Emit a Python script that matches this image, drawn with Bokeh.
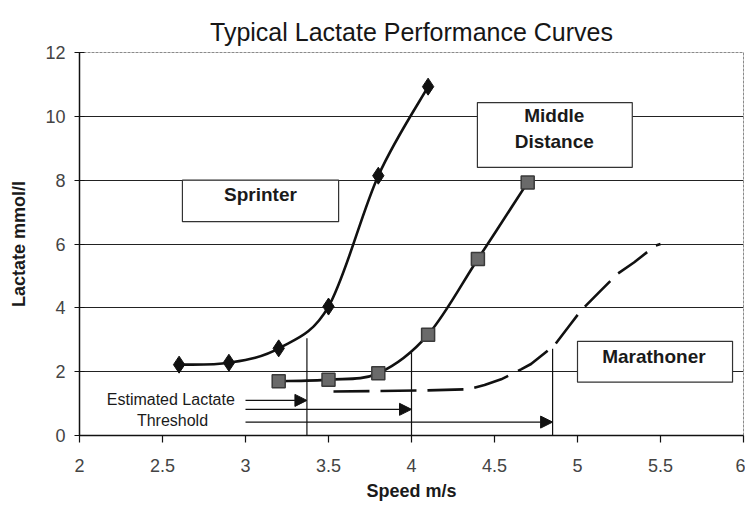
from bokeh.plotting import figure
from bokeh.models import Range1d, FixedTicker, BoxAnnotation, Label, Arrow, NormalHead, ColumnDataSource
from bokeh.embed import file_html
from bokeh.resources import INLINE

# ---- data ----
speed_sprinter = [2.6, 2.9, 3.2, 3.5, 3.8, 4.1]
lactate_sprinter = [2.22, 2.28, 2.73, 4.04, 8.14, 10.93]

speed_middle = [3.2, 3.5, 3.8, 4.1, 4.4, 4.7]
lactate_middle = [1.70, 1.75, 1.95, 3.16, 5.53, 7.93]

speed_marathon = [3.53, 3.77, 4.06, 4.34, 4.44, 4.54, 4.66, 4.72, 4.86, 4.96,
                  5.02, 5.14, 5.24, 5.34, 5.47, 5.5]
lactate_marathon = [1.38, 1.39, 1.41, 1.45, 1.58, 1.76, 2.07, 2.24, 2.82, 3.50,
                    3.91, 4.54, 5.06, 5.42, 5.95, 6.0]

threshold_speed = [3.37, 4.0, 4.85]
threshold_top = [3.05, 2.6, 2.72]
arrow_lactate = [1.10, 0.82, 0.42]
arrow_start = 3.0

x_ticks = [2, 2.5, 3, 3.5, 4, 4.5, 5, 5.5, 6]
x_tick_labels = ["2", "2.5", "3", "3.5", "4", "4.5", "5", "5.5", "6"]
y_ticks = [0, 2, 4, 6, 8, 10, 12]
y_tick_labels = ["0", "2", "4", "6", "8", "10", "12"]

FONT = "Liberation Sans"


def smooth_segments(xs, ys):
    """Catmull-Rom style bezier control points through the given points."""
    n = len(xs)
    d = dict(x0=[], y0=[], x1=[], y1=[], cx0=[], cy0=[], cx1=[], cy1=[])
    for i in range(n - 1):
        a = i - 1 if i > 0 else i
        b = i + 2 if i + 2 < n else i + 1
        d["x0"].append(xs[i]); d["y0"].append(ys[i])
        d["x1"].append(xs[i + 1]); d["y1"].append(ys[i + 1])
        d["cx0"].append(xs[i] + (xs[i + 1] - xs[a]) / 6.0)
        d["cy0"].append(ys[i] + (ys[i + 1] - ys[a]) / 6.0)
        d["cx1"].append(xs[i + 1] - (xs[b] - xs[i]) / 6.0)
        d["cy1"].append(ys[i + 1] - (ys[b] - ys[i]) / 6.0)
    return ColumnDataSource(d)


p = figure(width=745, height=505, output_backend="svg", toolbar_location=None,
           x_range=Range1d(2, 6), y_range=Range1d(0, 12),
           min_border_left=79, min_border_right=2, min_border_top=52, min_border_bottom=70)

p.title.text = "Typical Lactate Performance Curves"
p.title.align = "center"
p.title.offset = -10
p.title.standoff = 14
p.title.text_font = FONT
p.title.text_font_size = "25px"
p.title.text_font_style = "normal"
p.title.text_color = "#161616"

p.background_fill_color = "white"
p.border_fill_color = "white"
p.outline_line_color = "#8a8a8a"
p.outline_line_width = 1
p.outline_line_dash = "3 1"

# axes
p.xaxis.ticker = FixedTicker(ticks=x_ticks)
p.xaxis.major_label_overrides = {float(t): l for t, l in zip(x_ticks, x_tick_labels)}
p.yaxis.ticker = FixedTicker(ticks=y_ticks)
p.yaxis.major_label_overrides = {float(t): l for t, l in zip(y_ticks, y_tick_labels)}
for ax in (p.xaxis, p.yaxis):
    ax.axis_line_color = "#111111"
    ax.axis_line_width = 1.5
    ax.major_tick_line_color = "#111111"
    ax.major_tick_line_width = 1.2
    ax.minor_tick_line_color = None
    ax.major_label_text_font = FONT
    ax.major_label_text_font_size = "18px"
    ax.major_label_text_color = "#444444"
    ax.axis_label_text_font = FONT
    ax.axis_label_text_font_style = "bold"
    ax.axis_label_text_font_size = "18px"
    ax.axis_label_text_color = "#1a1a1a"
p.xaxis.major_tick_in = 0
p.xaxis.major_tick_out = 7
p.xaxis.major_label_standoff = 16
p.xaxis.axis_label = "Speed m/s"
p.xaxis.axis_label_standoff = 6
p.yaxis.major_tick_in = 5
p.yaxis.major_tick_out = 5
p.yaxis.major_label_standoff = 9
p.yaxis.axis_label = "Lactate mmol/l"
p.yaxis.axis_label_standoff = 13

p.xgrid.grid_line_color = None
p.ygrid.ticker = FixedTicker(ticks=y_ticks)
p.ygrid.grid_line_color = "#222222"
p.ygrid.grid_line_width = 1.2

# threshold vertical lines
p.segment(x0=threshold_speed, y0=[0] * len(threshold_speed),
          x1=threshold_speed, y1=threshold_top, line_color="#111111", line_width=1.2)

# arrows
for xs, ya in zip(threshold_speed, arrow_lactate):
    p.add_layout(Arrow(end=NormalHead(size=12, fill_color="#111111", line_color="#111111"),
                       x_start=arrow_start, y_start=ya, x_end=xs, y_end=ya,
                       line_color="#111111", line_width=1.2))

# curves
p.bezier(x0="x0", y0="y0", x1="x1", y1="y1", cx0="cx0", cy0="cy0", cx1="cx1", cy1="cy1",
         source=smooth_segments(speed_sprinter, lactate_sprinter), line_color="#111111", line_width=2.6)
p.bezier(x0="x0", y0="y0", x1="x1", y1="y1", cx0="cx0", cy0="cy0", cx1="cx1", cy1="cy1",
         source=smooth_segments(speed_middle, lactate_middle), line_color="#111111", line_width=2.6)
p.line(speed_marathon, lactate_marathon, line_color="#111111", line_width=2.6,
       line_dash="36 11", line_join="round")

p.scatter(speed_sprinter, lactate_sprinter, marker="diamond", size=17,
          fill_color="#111111", line_color="#111111")
p.scatter(speed_middle, lactate_middle, marker="square", size=13,
          fill_color="#6a6a6a", line_color="#3a3a3a", line_width=1.5)

# text boxes
boxes = [(2.62, 3.561, 8.0, 6.7), (4.397, 5.33, 10.43, 8.40), (5.0, 5.934, 2.95, 1.67)]
for l, r, t, b in boxes:
    p.add_layout(BoxAnnotation(left=l, right=r, top=t, bottom=b, fill_color="white",
                               fill_alpha=1.0, line_color="#333333", line_width=1.2, line_alpha=1.0))

bold_labels = [(3.09, 7.55, "Sprinter"), (4.86, 10.02, "Middle"), (4.86, 9.22, "Distance"),
               (5.46, 2.48, "Marathoner")]
for x, y, t in bold_labels:
    p.add_layout(Label(x=x, y=y, text=t, text_font=FONT, text_font_style="bold",
                       text_font_size="19px", text_color="#1a1a1a",
                       text_align="center", text_baseline="middle"))

for x, y, t in [(2.55, 1.13, "Estimated Lactate"), (2.56, 0.47, "Threshold")]:
    p.add_layout(Label(x=x, y=y, text=t, text_font=FONT, text_font_size="16px",
                       text_color="#1a1a1a", text_align="center", text_baseline="middle"))

open("out.html", "w").write(file_html(p, INLINE))
